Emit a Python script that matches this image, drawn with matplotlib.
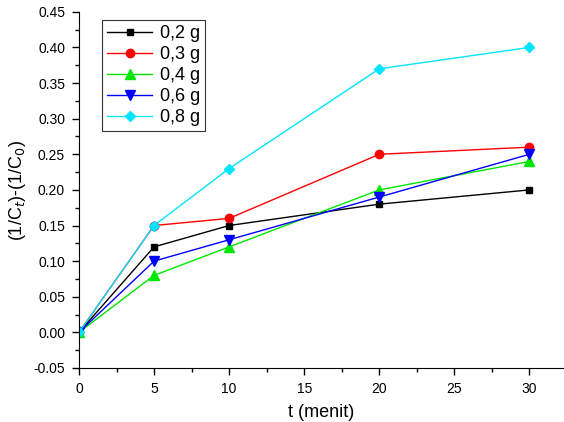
import numpy as np
import matplotlib.pyplot as plt
from matplotlib.ticker import MultipleLocator

# data kinetika
t = [0, 5, 10, 20, 30]
y_02 = [0.00, 0.12, 0.15, 0.18, 0.20]
y_03 = [0.00, 0.15, 0.16, 0.25, 0.26]
y_04 = [0.00, 0.08, 0.12, 0.20, 0.24]
y_06 = [0.00, 0.10, 0.13, 0.19, 0.25]
y_08 = [0.00, 0.15, 0.23, 0.37, 0.40]

labels = ["0,2 g", "0,3 g", "0,4 g", "0,6 g", "0,8 g"]
series = [y_02, y_03, y_04, y_06, y_08]
colors = ["black", "#ff0000", "#00e600", "#0000ff", "#00e5ff"]
markers = ["s", "o", "^", "v", "D"]
msizes = [5, 6, 6.5, 6.5, 5.5]

plt.rcParams['font.family'] = ['Liberation Sans', 'DejaVu Sans']

fig = plt.figure(figsize=(5.64, 4.22), dpi=100)
ax = fig.add_axes([0.140, 0.128, 0.860, 0.844])

for y, lab, c, m, ms in zip(series, labels, colors, markers, msizes):
    ax.plot(t, y, color=c, marker=m, markersize=ms, linewidth=1.0, label=lab)

ax.set_xlim(0, 32.3)
ax.set_ylim(-0.05, 0.45)
ax.xaxis.set_major_locator(MultipleLocator(5))
ax.xaxis.set_minor_locator(MultipleLocator(2.5))
ax.yaxis.set_major_locator(MultipleLocator(0.05))
ax.yaxis.set_minor_locator(MultipleLocator(0.025))
ax.yaxis.set_major_formatter(plt.FormatStrFormatter('%.2f'))

ax.spines['top'].set_visible(False)
ax.spines['right'].set_visible(False)
ax.tick_params(which='major', direction='out', length=5, width=1, labelsize=10, pad=5)
ax.tick_params(which='minor', direction='out', length=3, width=1)

ax.set_xlabel("t (menit)", fontsize=13, labelpad=6)
ax.set_ylabel("(1/C$_t$)-(1/C$_0$)", fontsize=13, labelpad=4)

leg = ax.legend(loc='upper left', bbox_to_anchor=(0.047, 0.978), fontsize=13,
                frameon=True, fancybox=False, edgecolor='black',
                handlelength=2.5, handletextpad=0.4, borderpad=0.3,
                labelspacing=0.22, borderaxespad=0)
leg.get_frame().set_linewidth(0.8)

fig.savefig("out.png", dpi=100)
